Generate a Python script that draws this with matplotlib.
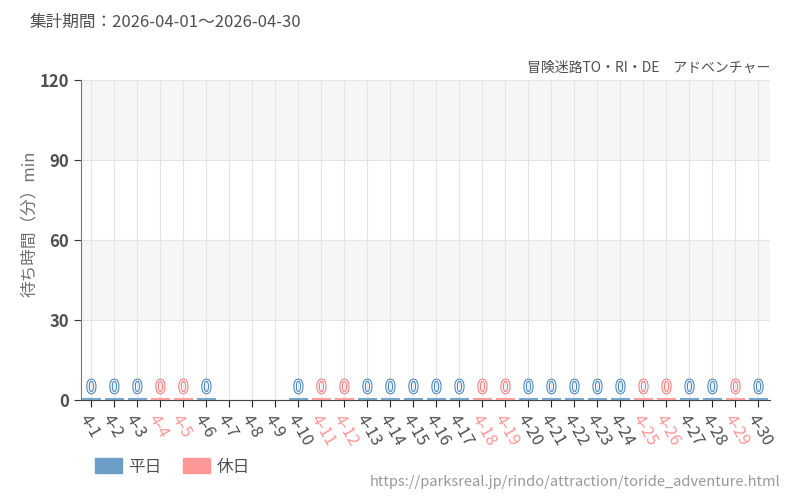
import matplotlib
matplotlib.use("Agg")
import matplotlib.pyplot as plt
import matplotlib.patheffects as pe
from matplotlib.patches import Patch

plt.rcParams['font.family'] = ['Noto Sans CJK JP', 'DejaVu Sans']

days = [f"4-{d}" for d in range(1, 31)]
values = [0, 0, 0, 0, 0, 0, None, None, None, 0, 0, 0, 0, 0, 0, 0, 0, 0, 0, 0,
          0, 0, 0, 0, 0, 0, 0, 0, 0, 0]
holidays = [4, 5, 11, 12, 18, 19, 25, 26, 29]
yticks = [0, 30, 60, 90, 120]

BLUE = '#6b9dc6'
BLUE_T = '#3f7fbd'
PINK = '#ff9797'
PINK_T = '#ff7474'
DARK = '#505050'

fig = plt.figure(figsize=(8, 5), dpi=100)
ax = fig.add_axes([0.10125, 0.2, 0.86125, 0.64])

# bands
for i, (lo, hi) in enumerate(zip(yticks[:-1], yticks[1:])):
    if i % 2 == 1:
        ax.axhspan(lo, hi, color='#f6f6f6', zorder=0, lw=0)

ax.set_xlim(-0.45, 29.5)
ax.set_ylim(0, 120)
ax.set_yticks(yticks)
ax.set_xticks(range(len(days)))
ax.grid(True, axis='both', color='#e4e4e4', lw=0.8, zorder=0.5)
ax.set_axisbelow(True)

for i, (d, v) in enumerate(zip(days, values)):
    if v is None:
        continue
    hol = (i + 1) in holidays
    c = PINK if hol else BLUE
    tc = PINK_T if hol else BLUE_T
    bars = ax.bar(i, v, width=0.85, bottom=0.35, color=c, edgecolor=c, lw=1.3, zorder=3)
    for b in bars:
        b.set_clip_on(False)
    t = ax.text(i, v + 1.1, f"{v}", ha='center', va='bottom', fontsize=13,
                color='#eef3f8', zorder=4, stretch='condensed')
    t.set_path_effects([pe.Stroke(linewidth=1.4, foreground=tc), pe.Normal()])

for s in ['top', 'right']:
    ax.spines[s].set_visible(False)
ax.spines['left'].set_color('#777777')
ax.spines['bottom'].set_color('#444444')
ax.tick_params(axis='y', colors=DARK, labelsize=12, length=5, color='#333333')
ax.tick_params(axis='x', length=5, color='#222222')
for lab in ax.get_yticklabels():
    lab.set_fontweight('bold')
ax.set_xticklabels(days, rotation=-60, ha='left', va='top',
                   rotation_mode='anchor', fontsize=12)
for i, lab in enumerate(ax.get_xticklabels()):
    lab.set_color(PINK if (i + 1) in holidays else DARK)

ax.set_ylabel('待ち時間（分）min', color='#707070', fontsize=12, labelpad=8)
ax.yaxis.set_label_coords(-0.062, 0.55)

fig.text(30 / 800, 1 - 22 / 500, '集計期間：2026-04-01～2026-04-30', fontsize=12,
         color=DARK, ha='left', va='center')
fig.text(770 / 800, 1 - 68 / 500, '冒険迷路TO・RI・DE　アドベンチャー', fontsize=10,
         color=DARK, ha='right', va='center')
fig.text(780 / 800, 1 - 482 / 500, 'https://parksreal.jp/rindo/attraction/toride_adventure.html',
         fontsize=10.5, color='#999999', ha='right', va='center')

handles = [Patch(color=BLUE, label='平日'), Patch(color=PINK, label='休日')]
leg = fig.legend(handles=handles, loc='center left', bbox_to_anchor=(80 / 800, 1 - 467 / 500),
                 ncol=2, frameon=False, fontsize=12, handlelength=1.6, handleheight=1.0,
                 columnspacing=1.3, handletextpad=0.4)
for t in leg.get_texts():
    t.set_color(DARK)

fig.savefig('out.png', dpi=100)
